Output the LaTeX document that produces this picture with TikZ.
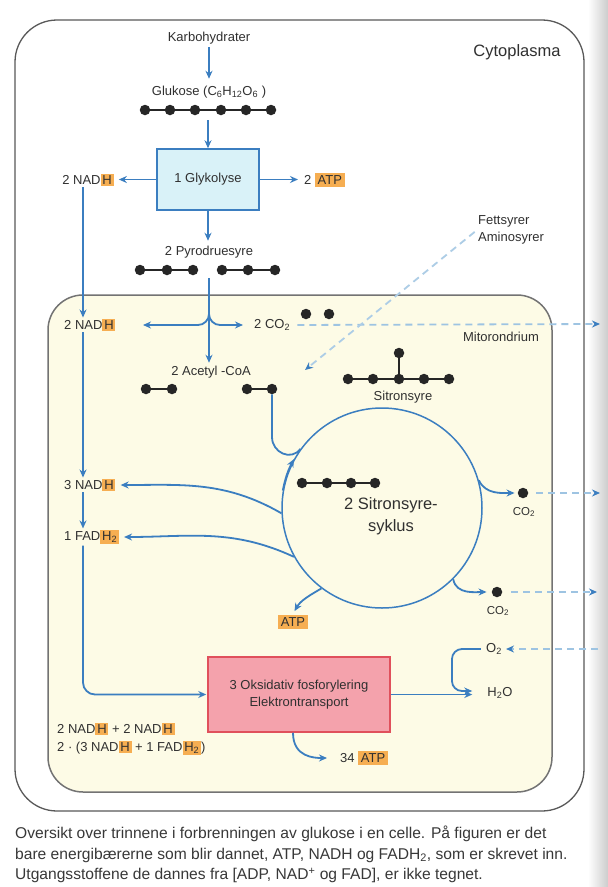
\documentclass[tikz,border=0pt]{standalone}
\usepackage{fontspec}
\setmainfont{Liberation Sans}
\usetikzlibrary{arrows.meta,calc}
\definecolor{arrblue}{HTML}{3B7EC0}
\definecolor{dashblue}{HTML}{9EC4E2}
\definecolor{hlorange}{HTML}{F6AE52}
\definecolor{mitofill}{HTML}{FDFBE6}
\definecolor{glyfill}{HTML}{D9F2F8}
\definecolor{oksfill}{HTML}{F4A2AC}
\definecolor{oksdraw}{HTML}{E0505C}
\definecolor{txt}{HTML}{303030}
\definecolor{dotc}{HTML}{262626}
\newcommand{\hlo}[1]{{\setlength{\fboxsep}{1.8pt}\colorbox{hlorange}{#1}}}
\newcommand{\hlb}[1]{{\setlength{\fboxsep}{2.6pt}\colorbox{hlorange}{#1}}}
\begin{document}
\begin{tikzpicture}[x=1pt,y=-1pt,
  lab/.style={font=\fontsize{13}{16}\selectfont, text=txt, inner sep=1pt},
  arr/.style={draw=arrblue, line width=1.8pt, -{Stealth[length=8pt,width=7pt]}},
  ln/.style={draw=arrblue, line width=1.8pt},
  dsh/.style={draw=dashblue, line width=1.8pt, dash pattern=on 7pt off 5pt, -{Stealth[length=8pt,width=7pt,fill=arrblue,color=arrblue]}},
  dotn/.style={circle, fill=dotc, inner sep=0pt, minimum size=10.5pt},
  bond/.style={draw=dotc, line width=1.6pt},
]
\useasboundingbox (0,0) rectangle (608,887);
\fill[white] (0,0) rectangle (608,887);
\shade[left color=white, right color=black!20] (588,0) rectangle (608,887);

% compartments
\draw[draw=black!65, line width=1.3pt, rounded corners=42pt] (15,20) rectangle (584,811);
\draw[draw=black!55, fill=mitofill, line width=1.5pt, rounded corners=35pt] (48,295) rectangle (552,792);

% labels
\node[lab, font=\fontsize{16.5}{19}\selectfont] (cyto) at (517,52) {Cytoplasma};
\node[lab] (mito) at (501,337) {Mitorondrium};
\node[lab] (karb) at (209,38) {Karbohydrater};
\node[lab] (gluk) at (209,92) {Glukose (C\textsubscript{6}H\textsubscript{12}O\textsubscript{6} )};
\foreach \x [count=\i] in {145,170,195,221,246,271} \node[dotn] (g\i) at (\x,110) {};
\draw[bond] (g1) -- (g6);
\coordinate (gch) at (208,120);

\node[draw=arrblue, fill=glyfill, line width=1.5pt, minimum width=102pt, minimum height=61pt, lab] (glyk) at (208,179.5) {1 Glykolyse};
\node[lab] (nadh1) at (88,180) {2 NAD\hlo{H}};
\node[lab, anchor=west] (atp1) at (303,180) {2 \hlb{ATP}};

\node[lab] (pyro) at (209,252) {2 Pyrodruesyre};
\foreach \x [count=\i] in {140,167,193,222,248,275} \node[dotn] (p\i) at (\x,270) {};
\draw[bond] (p1) -- (p3);
\draw[bond] (p4) -- (p6);

\node[lab, anchor=west] (nadh2) at (63,325) {2 NAD\hlo{H}};
\node[lab, anchor=west] (co2a) at (253,325) {2 CO\textsubscript{2}};
\node[dotn] (ca1) at (306,314) {};
\node[dotn] (ca2) at (329,314) {};

\node[lab] (acetyl) at (211,372) {2 Acetyl -CoA};
\node[dotn] (a1) at (146,389) {};
\node[dotn] (a2) at (172,389) {};
\node[dotn] (a3) at (247,389) {};
\node[dotn] (a4) at (272,389) {};
\draw[bond] (a1) -- (a2);
\draw[bond] (a3) -- (a4);

\node[lab, align=left, anchor=west, font=\fontsize{13}{16.5}\selectfont] (fett) at (477,230) {Fettsyrer\\Aminosyrer};

% sitronsyre molecule
\foreach \x [count=\i] in {348,373,399,424,449} \node[dotn] (s\i) at (\x,379) {};
\node[dotn] (s6) at (399,353) {};
\draw[bond] (s1) -- (s5);
\draw[bond] (s3) -- (s6);
\node[lab] (sitr) at (403,397) {Sitronsyre};

% cycle
\node[circle, draw=arrblue, line width=1.5pt, minimum size=200pt, inner sep=0pt] (cyc) at (382,508) {};
\foreach \x [count=\i] in {302,327,351,375} \node[dotn] (c\i) at (\x,483) {};
\draw[bond] (c1) -- (c4);
\node[lab, font=\fontsize{16.5}{22}\selectfont, align=center] (cyctext) at (391,516) {2 Sitronsyre-\\syklus};

\node[lab, anchor=west] (nadh3) at (63,485) {3 NAD\hlo{H}};
\node[lab, anchor=west] (fadh) at (63,537) {1 FAD\hlo{H\textsubscript{2}}};
\node[lab] (atp2) at (293,622) {\hlb{ATP}};

\node[dotn] (co2bd) at (523,493) {};
\node[lab, font=\fontsize{11.5}{13}\selectfont] (co2b) at (524,512) {CO\textsubscript{2}};
\node[dotn] (co2cd) at (497,592) {};
\node[lab, font=\fontsize{11.5}{13}\selectfont] (co2c) at (498,611) {CO\textsubscript{2}};
\node[lab] (o2) at (494,649) {O\textsubscript{2}};
\node[lab] (h2o) at (500,693) {H\textsubscript{2}O};

\node[draw=oksdraw, fill=oksfill, line width=1.5pt, minimum width=182pt, minimum height=75pt, lab, align=center, font=\fontsize{13}{17}\selectfont] (oks) at (299,694.5) {3 Oksidativ fosforylering\\Elektrontransport};
\node[lab, anchor=west] (atp34) at (339,758) {34 \hlb{ATP}};
\node[lab, anchor=west, align=left, font=\fontsize{13}{18}\selectfont] (sum) at (56,739) {2 NAD\hlo{H} + 2 NAD\hlo{H}\\2 · (3 NAD\hlo{H} + 1 FAD\hlo{H\textsubscript{2}})};

% coordinates for free ends
\coordinate (pch) at (209,278);
\coordinate (jn) at (209,314);
\coordinate (jla) at (198,325);
\coordinate (jl) at (143,325);
\coordinate (jra) at (220,325);
\coordinate (jr) at (243,325);
\coordinate (abend) at (272,437);
\coordinate (fettend) at (305,370);
\coordinate (co2aout) at (600,324);
\coordinate (co2bout) at (600,493);
\coordinate (co2cout) at (597,592);
\coordinate (o2in) at (598,649);

% connectors
\draw[arr, shorten <=2pt, shorten >=6pt] (karb) -- (gluk);
\draw[arr] (gch) -- (glyk.north);
\draw[arr, shorten >=4pt] (glyk.west) -- (glyk.west -| nadh1.east);
\draw[arr, shorten >=5pt] (glyk.east) -- (glyk.east -| atp1.west);
\draw[arr, shorten >=4pt] (glyk.south) -- (glyk.south |- pyro.north);
\draw[ln] (pch) -- (jn);
\draw[arr] (jn) to[out=-90,in=0] (jla) -- (jl);
\draw[arr] (jn) to[out=-90,in=180] (jra) -- (jr);
\draw[arr, shorten >=2pt] (jn) -- (jn |- acetyl.north);

\draw[arr] ([xshift=-5pt]nadh1.south) -- ([xshift=-5pt]nadh1.south |- nadh2.north);
\draw[arr] ([xshift=-5pt]nadh1.south |- nadh2.south) -- ([xshift=-5pt]nadh1.south |- nadh3.north);
\draw[arr] ([xshift=-5pt]nadh1.south |- nadh3.south) -- ([xshift=-5pt]nadh1.south |- fadh.north);
\draw[arr, rounded corners=12pt, shorten >=1pt] ([xshift=-5pt]nadh1.south |- fadh.south) |- (oks.west);

\draw[ln] (a4.south) -- (abend) to[out=-90,in=234,looseness=1.3] (cyc.144);
\draw[arr] (cyc.170) to[bend left=8] (cyc.151);
\draw[arr, shorten >=4pt] (cyc.183) to[out=150,in=0] (nadh3.east);
\draw[arr, shorten >=4pt] (cyc.209) to[out=155,in=0] (fadh.east);
\draw[arr, shorten >=3pt] (cyc.233) to[out=210,in=60] (atp2.north);
\draw[arr, shorten >=3pt] (cyc.16) to[out=-65,in=180] (co2bd.west);
\draw[arr, shorten >=5pt] (cyc.315) to[out=-80,in=180] (co2cd.west);

\draw[dsh, shorten <=6pt] (co2a.east) -- (co2aout);
\draw[dsh, shorten <=8pt] (co2bd.east) -- (co2bout);
\draw[dsh, shorten <=9pt] (co2cd.east) -- (co2cout);
\draw[dsh, shorten >=3pt] (o2in) -- (o2.east);
\draw[dsh, draw=dashblue!85, shorten <=3pt] (fett.west) -- (fettend);

\draw[arr, shorten >=14pt] (oks.east) -- (oks.east -| h2o.west);
\draw[arr, rounded corners=10pt, shorten <=4pt] (o2.west) -- ++(-33,0) |- ([xshift=-14pt,yshift=2pt]h2o.west);
\draw[arr, shorten >=12pt] ([xshift=-6pt]oks.south) to[out=-90,in=180,looseness=1.2] (atp34.west);

% caption
\node[anchor=north west, align=left, font=\fontsize{15.6}{20.5}\selectfont, text=black!78, inner sep=0pt] (cap) at (15,826) {Oversikt over trinnene i forbrenningen av glukose i en celle. På figuren er det\\bare energibærerne som blir dannet, ATP, NADH og FADH\textsubscript{2}, som er skrevet inn.\\Utgangsstoffene de dannes fra [ADP, NAD\textsuperscript{+} og FAD], er ikke tegnet.};
\end{tikzpicture}
\end{document}
